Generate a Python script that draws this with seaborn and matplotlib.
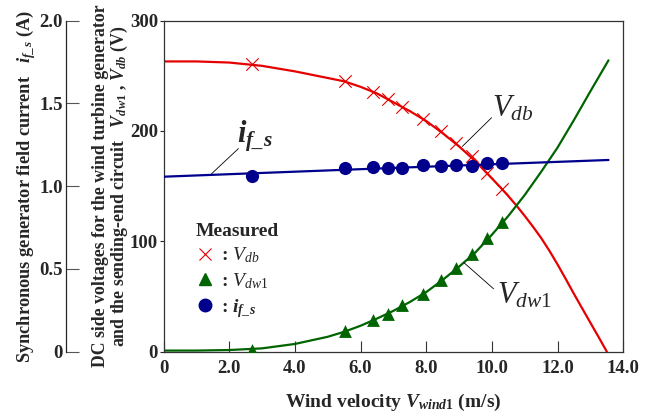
import numpy as np
import pandas as pd
import seaborn as sns
import matplotlib.pyplot as plt
from matplotlib.lines import Line2D

# measured points (wind velocity, m/s)
wind_meas = [2.7, 5.53, 6.38, 6.83, 7.26, 7.9, 8.44, 8.9, 9.4, 9.85, 10.32]
vdb_meas = [261, 245, 235.5, 229, 222, 211, 200, 189, 177, 162, 147]
vdw_meas = [1.8, 18.5, 28.5, 34.5, 42, 52.3, 64.7, 75.6, 88.8, 102.7, 117.6]
ifs_meas = [1.059, 1.107, 1.113, 1.107, 1.107, 1.129, 1.121, 1.129, 1.119, 1.138, 1.139]

# calculated curves
wind_db = [0, 1, 2, 3, 4, 5, 5.5, 6, 6.5, 7, 7.5, 8, 8.5, 9, 9.5, 10, 10.25, 10.5, 10.75, 11,
           11.25, 11.5, 11.75, 12, 12.25, 12.5, 12.75, 13, 13.25, 13.5]
vdb_calc = [263, 263, 262, 259, 254, 248, 245, 240, 234, 226, 218, 209, 198, 186, 172.5, 157, 149.2, 141, 132.3, 123,
            113.3, 103, 91.5, 79, 65.8, 52.3, 39.2, 26.2, 13.2, 0]
wind_dw = [0, 1, 2, 3, 4, 5, 5.5, 6, 6.5, 7, 7.5, 8, 8.5, 9, 9.5, 10, 10.5, 11, 11.5, 12, 12.5, 13, 13.55]
vdw_calc = [1, 1, 1.5, 3, 7, 13.5, 18, 23.5, 30, 37, 45, 54, 65, 77, 90, 106, 123, 142, 163, 185, 210, 236, 264]
wind_ifs = [0, 7, 13.55]
ifs_calc = [1.057, 1.11, 1.158]

xticks = [0, 2, 4, 6, 8, 10, 12, 14]
xticklabels = ["0", "2.0", "4.0", "6.0", "8.0", "10.0", "12.0", "14.0"]
vticks = [0, 100, 200, 300]
iticks = [0, 0.5, 1.0, 1.5, 2.0]
iticklabels = ["0", "0.5", "1.0", "1.5", "2.0"]

red = "#e60000"
green = "#006400"
blue = "#00008c"

sns.set_style("ticks")
plt.rcParams['font.family'] = ['Liberation Serif', 'DejaVu Serif']
plt.rcParams['font.weight'] = 'bold'
plt.rcParams['axes.labelweight'] = 'bold'
plt.rcParams['mathtext.fontset'] = 'custom'
plt.rcParams['mathtext.rm'] = 'Liberation Serif:normal'
plt.rcParams['mathtext.it'] = 'Liberation Serif:italic:normal'
plt.rcParams['mathtext.bf'] = 'Liberation Serif:bold'
plt.rcParams['mathtext.bfit'] = 'Liberation Serif:italic:bold'

fig = plt.figure(figsize=(6.54, 4.12), dpi=100)
ax = fig.add_axes([0.25, 0.1464, 0.703, 0.8036])

sns.lineplot(x=wind_db, y=vdb_calc, ax=ax, color=red, linewidth=1.6)
sns.lineplot(x=wind_dw, y=vdw_calc, ax=ax, color=green, linewidth=1.6)
sns.scatterplot(x=wind_meas, y=vdb_meas, ax=ax, marker='x', color=red, s=80, linewidth=0.8, zorder=3)
sns.scatterplot(x=wind_meas, y=vdw_meas, ax=ax, marker='^', color=green, s=85, edgecolor=green, linewidth=0, zorder=3)

ax.set_xlim(0, 14)
ax.set_ylim(0, 300)
ax.set_xticks(xticks)
ax.set_xticklabels(xticklabels)
ax.set_yticks(vticks)
ax.tick_params(axis='x', direction='in', length=8, width=0.8, pad=6, labelsize=13.5, color='#333333')
ax.tick_params(axis='y', direction='out', length=3, width=0.8, pad=1, labelsize=13.5)
for s in ax.spines.values():
    s.set_linewidth(0.9)
    s.set_color('#333333')
ax.set_xlabel(r"Wind velocity $\mathbfit{V}_{\mathbfit{wind}\mathbf{1}}$ (m/s)", fontsize=14, labelpad=11)
ax.set_ylabel("DC side voltages for the wind turbine generator\n"
              r"and the sending-end circuit   $\mathbfit{V}_{\mathbfit{dw}\mathbf{1}}$ , $\mathbfit{V}_{\mathbfit{db}}$ (V)",
              fontsize=12.8, labelpad=0, linespacing=0.95)

# outer axis for field current
ax2 = ax.twinx()
sns.lineplot(x=wind_ifs, y=ifs_calc, ax=ax2, color=blue, linewidth=1.6)
sns.scatterplot(x=wind_meas, y=ifs_meas, ax=ax2, marker='o', color=blue, s=90, edgecolor=blue, linewidth=0, zorder=3)
ax2.set_ylim(0, 2.0)
ax2.set_yticks(iticks)
ax2.set_yticklabels(iticklabels)
for k in ['right', 'top', 'bottom']:
    ax2.spines[k].set_visible(False)
ax2.spines['left'].set_visible(True)
ax2.spines['left'].set_position(('outward', 70))
ax2.spines['left'].set_linewidth(0.9)
ax2.yaxis.tick_left()
ax2.yaxis.set_label_position('left')
ax2.tick_params(axis='y', direction='in', length=9.5, width=0.8, pad=2.5, labelsize=13.5, color='#555555')
ax2.set_ylabel(r"Synchronous generator field current   $\mathbfit{i}_{\mathbfit{f\_s}}$ (A)", fontsize=13.2, labelpad=1)

# curve labels
ax.text(10.64, 220, r"$V_{db}$", fontsize=22, ha='center', va='center')
ax.plot([9.99, 9.1], [212, 186], color='black', linewidth=0.6)
ax.text(10.98, 51, r"$V_{dw\mathrm{1}}$", fontsize=22, ha='center', va='center')
ax.plot([10.05, 9.15], [57, 80.6], color='black', linewidth=0.6)
ax.text(2.79, 195, r"$\mathbfit{i}_{\mathbfit{f\_s}}$", fontsize=22, ha='center', va='center')
ax.plot([2.28, 1.42], [184, 160], color='black', linewidth=0.6)

handles = [
    Line2D([], [], linestyle='none', marker='x', color=red, markersize=9, markeredgewidth=0.8),
    Line2D([], [], linestyle='none', marker='^', color=green, markersize=9),
    Line2D([], [], linestyle='none', marker='o', color=blue, markersize=9),
]
labels = [r": $V_{db}$", r": $V_{dw\mathrm{1}}$", r": $\mathbfit{i}_{\mathbfit{f\_s}}$"]
ax.legend(handles, labels, title="Measured", loc='upper left', bbox_to_anchor=(0.04, 0.43),
          frameon=False, fontsize=14, title_fontsize=14, handlelength=1.0, handletextpad=0.3,
          labelspacing=0.3, alignment='left', borderpad=0.2)

fig.savefig("out.png", dpi=100)
